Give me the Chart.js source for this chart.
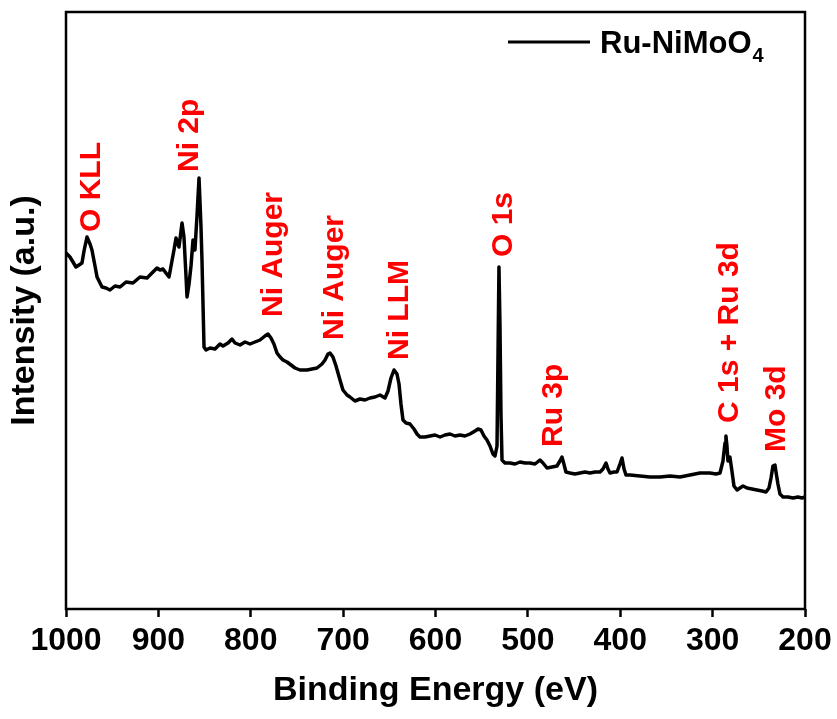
<!DOCTYPE html>
<html>
  <head>
    <script src="https://cdn.jsdelivr.net/npm/chart.js"></script>
    <title>XPS Survey</title>
    <style>
      body {
        margin: 0;
        background-color: white;
      }
    </style>
  </head>
  <body>
    <canvas id="xpsChart" width="837" height="719"></canvas>

    <script>
      // Survey spectrum: binding energy (eV) and counts (a.u.)
      const energy = [
        1000, 995.7, 989.2, 982.7, 980.5, 977.3, 974.0, 971.9, 968.6, 966.4,
        961.0, 956.7, 952.4, 947.0, 941.5, 935.0, 927.5, 919.9, 912.3, 906.9,
        901.5, 898.2, 895.0, 891.8, 888.5, 885.3, 883.1, 880.9, 878.8, 877.7,
        875.5, 874.4, 872.3, 870.1, 869.0, 866.8, 864.7, 862.5, 860.4, 858.2,
        856.0, 853.9, 852.8, 850.6, 848.4, 844.1, 838.7, 833.3, 830.0, 824.6,
        820.3, 817.0, 811.6, 806.2, 800.8, 795.4, 790.0, 784.6, 781.3, 778.1,
        774.9, 771.6, 768.3, 765.1, 760.8, 756.4, 752.1, 746.7, 739.1, 733.7,
        728.3, 722.9, 719.6, 716.4, 714.2, 711.0, 707.7, 703.4, 700.2, 695.8,
        692.6, 687.2, 681.7, 676.3, 670.9, 665.5, 660.1, 654.7, 651.4, 648.2,
        644.9, 641.7, 639.5, 637.4, 635.2, 631.9, 627.6, 623.3, 620.0, 616.8,
        611.4, 605.9, 600.5, 595.1, 589.7, 584.3, 578.9, 573.5, 568.1, 562.7,
        557.2, 554.0, 550.8, 547.5, 544.3, 541.0, 537.8, 535.6, 533.4,
        531.3, 530.2, 529.1, 528.0, 524.8, 519.3, 513.9, 508.5, 503.1, 497.7,
        492.3, 486.9, 483.6, 479.3, 473.9, 468.5, 465.3, 463.1, 461.0, 458.8,
        454.4, 449.0, 443.6, 438.2, 432.8, 427.3, 421.9, 418.7, 415.4, 413.3,
        411.1, 406.7, 403.5, 400.3, 398.1, 395.9, 393.8, 389.4, 378.6, 367.8,
        357.0, 346.1, 335.3, 324.5, 313.7, 302.9, 296.3, 292.0, 288.8, 286.6,
        285.6, 284.5, 283.4, 281.3, 279.1, 276.9, 273.6, 270.4, 267.1, 262.8,
        257.4, 252.0, 246.6, 242.2, 239.0, 236.8, 234.7, 232.5, 231.4, 229.3,
        227.1, 223.8, 218.4, 213.0, 207.6, 203.3, 200
      ];
      const intensity = [
        353, 349, 339, 343, 355, 369, 362, 356, 340, 329,
        319, 318, 316, 320, 319, 324, 323, 329, 328, 333,
        338, 336, 337, 333, 329, 345, 356, 368, 362, 359,
        375, 383, 369, 330, 309, 322, 340, 366, 356, 390,
        428, 380, 346, 259, 256, 258, 257, 262, 260, 263,
        267, 263, 261, 264, 262, 264, 266, 270, 272, 268,
        262, 253, 249, 246, 244, 241, 238, 236, 236, 237,
        238, 242, 246, 252, 253, 249, 240, 226, 216, 211,
        209, 205, 207, 206, 208, 209, 211, 208, 215, 228,
        236, 232, 222, 202, 186, 183, 182, 177, 172, 169,
        169, 170, 171, 169, 171, 172, 170, 171, 170, 172,
        175, 177, 176, 170, 166, 160, 152, 150, 160,
        339, 280, 190, 146, 143, 143, 142, 144, 143, 143,
        142, 146, 143, 138, 139, 140, 145, 149, 142, 134,
        133, 132, 133, 134, 133, 134, 134, 137, 143, 137,
        133, 134, 134, 142, 148, 137, 131, 131, 130, 129,
        129, 130, 129, 131, 133, 133, 132, 133, 145, 163,
        170, 160, 145, 149, 135, 120, 116, 118, 120, 118,
        117, 116, 115, 114, 118, 128, 140, 141, 134, 122,
        112, 109, 109, 108, 109, 108, 109
      ];

      // Peak assignments, anchored at energy / intensity
      const peakNames = ['O KLL', 'Ni 2p', 'Ni Auger', 'Ni Auger', 'Ni LLM', 'O 1s', 'Ru 3p', 'C 1s + Ru 3d', 'Mo 3d'];
      const peakEnergy = [963.2, 857.1, 766.2, 700.1, 629.8, 517.2, 463.1, 272.5, 221.7];
      const peakHeight = [374, 434, 289, 266, 246, 349, 159, 183, 154];

      const xTicks = [1000, 900, 800, 700, 600, 500, 400, 300, 200];

      const FONT = 'Liberation Sans, Arial, sans-serif';

      const points = energy.map((e, i) => ({ x: e, y: intensity[i] }));

      // frame, peak labels and the legend entry
      const decorations = {
        id: 'decorations',
        afterDraw(chart) {
          const ctx = chart.ctx;
          const area = chart.chartArea;
          const xs = chart.scales.x;
          const ys = chart.scales.y;

          ctx.save();
          ctx.strokeStyle = '#000';
          ctx.lineWidth = 2.5;
          ctx.strokeRect(area.left, area.top, area.right - area.left, area.bottom - area.top);

          ctx.fillStyle = '#ff0000';
          ctx.font = 'bold 30px ' + FONT;
          ctx.textAlign = 'left';
          ctx.textBaseline = 'alphabetic';
          peakNames.forEach((name, i) => {
            const px = xs.getPixelForValue(peakEnergy[i]);
            const py = ys.getPixelForValue(peakHeight[i]);
            ctx.save();
            ctx.translate(px, py);
            ctx.rotate(-Math.PI / 2);
            ctx.fillText(name, 0, 0);
            ctx.restore();
          });

          // legend
          const lx = area.right - 297;
          const ly = area.top + 30;
          ctx.strokeStyle = '#000';
          ctx.lineWidth = 3;
          ctx.beginPath();
          ctx.moveTo(lx, ly);
          ctx.lineTo(lx + 82, ly);
          ctx.stroke();

          ctx.fillStyle = '#000';
          ctx.font = 'bold 31px ' + FONT;
          const tx = lx + 92;
          const ty = ly + 11;
          ctx.fillText('Ru-NiMoO', tx, ty);
          const w = ctx.measureText('Ru-NiMoO').width;
          ctx.font = 'bold 20px ' + FONT;
          ctx.fillText('4', tx + w + 1, ty + 9);
          ctx.restore();
        }
      };

      const ctx = document.getElementById('xpsChart').getContext('2d');
      const xpsChart = new Chart(ctx, {
        type: 'line',
        data: {
          datasets: [{
            label: 'Ru-NiMoO4',
            data: points,
            borderColor: '#000',
            borderWidth: 3.5,
            borderJoinStyle: 'round',
            pointRadius: 0,
            tension: 0,
            fill: false,
          }],
        },
        options: {
          responsive: false,
          animation: false,
          layout: {
            padding: { top: 12, right: 32, left: 0, bottom: 0 },
          },
          plugins: {
            legend: { display: false },
            tooltip: { enabled: false },
          },
          scales: {
            x: {
              type: 'linear',
              reverse: true,
              min: 200,
              max: 1000,
              afterBuildTicks: (scale) => {
                scale.ticks = xTicks.map(v => ({ value: v }));
              },
              afterFit: (scale) => {
                scale.height = 110;
              },
              border: { display: false },
              grid: {
                drawOnChartArea: false,
                drawTicks: true,
                tickLength: 8,
                tickWidth: 2.5,
                tickColor: '#000',
              },
              ticks: {
                color: '#000',
                padding: 5,
                maxRotation: 0,
                callback: (value) => String(value),
                font: { family: FONT, size: 32, weight: 'bold' },
              },
              title: {
                display: true,
                text: 'Binding Energy (eV)',
                color: '#000',
                padding: { top: 0, bottom: 8 },
                font: { family: FONT, size: 34, weight: 'bold' },
              },
            },
            y: {
              min: -3,
              max: 594,
              afterFit: (scale) => {
                scale.width = 66;
              },
              border: { display: false },
              grid: { display: false },
              ticks: { display: false },
              title: {
                display: true,
                text: 'Intensity (a.u.)',
                color: '#000',
                padding: { top: 4, bottom: 0 },
                font: { family: FONT, size: 34, weight: 'bold' },
              },
            },
          },
        },
        plugins: [decorations],
      });
    </script>
  </body>
</html>
